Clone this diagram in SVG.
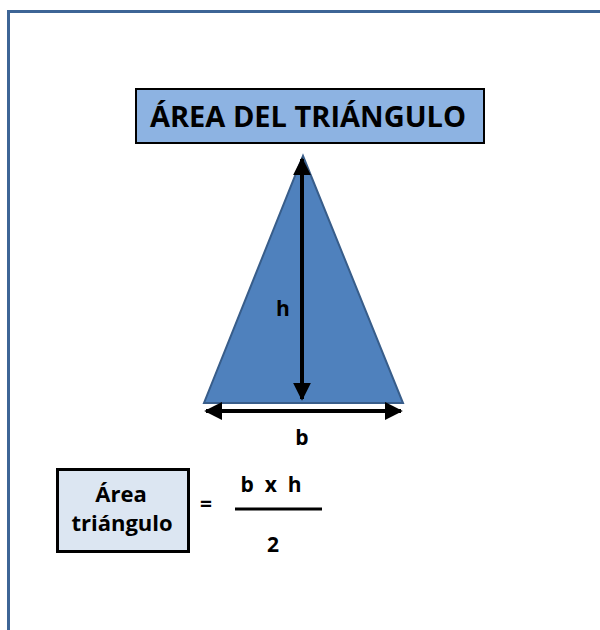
<svg xmlns="http://www.w3.org/2000/svg" width="600" height="630" viewBox="0 0 600 630">
<style>
.t{font-family:"Open Sans","Liberation Sans",sans-serif;font-weight:bold;fill:#000}
</style>
<defs>
<marker id="ah" viewBox="0 0 10 10" refX="9" refY="5" markerWidth="4.5" markerHeight="4.5" orient="auto-start-reverse" markerUnits="strokeWidth">
<path d="M0,0 L10,5 L0,10 z" fill="#000"/>
</marker>
</defs>
<rect width="600" height="630" fill="#fff"/>
<path d="M8.5,640 V11.5 H610" fill="none" stroke="#3d6596" stroke-width="3"/>
<g id="title">
<rect x="136" y="89" width="348" height="54" fill="#8db3e2" stroke="#000" stroke-width="2"/>
<text class="t" x="308" y="127" font-size="29" text-anchor="middle">ÁREA DEL TRIÁNGULO</text>
</g>
<g id="triangle">
<polygon points="303,156 403,403 204,403" fill="#4f81bd" stroke="#385d8a" stroke-width="2"/>
</g>
<g id="connectors">
<line x1="302" y1="159" x2="302" y2="399" stroke="#000" stroke-width="4" marker-start="url(#ah)" marker-end="url(#ah)"/>
<line x1="206" y1="411" x2="401" y2="411" stroke="#000" stroke-width="4" marker-start="url(#ah)" marker-end="url(#ah)"/>
</g>
<g id="label-h"><text class="t" x="283" y="316" font-size="21" text-anchor="middle">h</text></g>
<g id="label-b"><text class="t" x="302" y="445" font-size="21" text-anchor="middle">b</text></g>
<g id="formula-box">
<rect x="57.5" y="469.5" width="131" height="82" fill="#dce6f2" stroke="#000" stroke-width="3"/>
<text class="t" x="121" y="502" font-size="22" text-anchor="middle" font-weight="600">Área</text>
<text class="t" x="122" y="531" font-size="22" text-anchor="middle" font-weight="600">triángulo</text>
</g>
<g id="formula">
<text class="t" x="206" y="511" font-size="21" text-anchor="middle">=</text>
<text class="t" x="271" y="492" font-size="21" text-anchor="middle" xml:space="preserve">b  x  h</text>
<line x1="235" y1="509" x2="322" y2="509" stroke="#000" stroke-width="3"/>
<text class="t" x="273" y="552" font-size="21" text-anchor="middle">2</text>
</g>
</svg>
